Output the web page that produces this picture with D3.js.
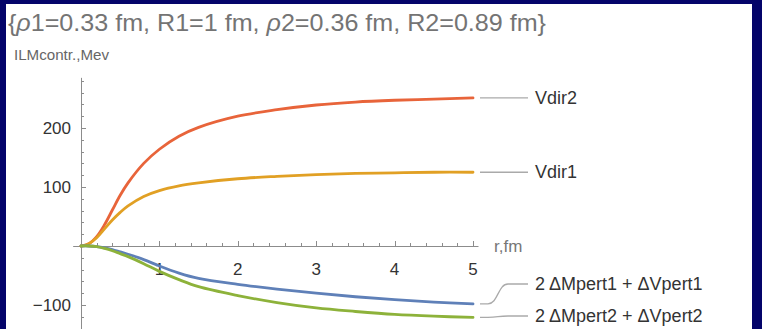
<!DOCTYPE html>
<html>
<head>
<meta charset="utf-8">
<script src="https://cdn.jsdelivr.net/npm/d3@7"></script>
<style>
  html, body { margin: 0; padding: 0; background: #04046a; }
  svg { display: block; }
  text { font-family: "Liberation Sans", Arial, sans-serif; }
</style>
</head>
<body>
<svg id="chart" width="762" height="329"></svg>
<script>
// radius samples (fm)
const radius = [0, 0.1, 0.2, 0.3, 0.4, 0.5, 0.6, 0.8, 1.0, 1.25, 1.5, 2, 2.5, 3, 3.5, 4, 4.5, 5];

// contributions, MeV
const vdir2 = [0, 4, 16, 36, 61, 86, 107, 140, 164, 186, 201, 220, 231, 239, 244, 247, 249, 251];
const vdir1 = [0, 4, 14, 29, 44, 57, 68, 84, 94, 102, 107, 114, 118, 121, 123, 124, 125, 125];
const pert1 = [0, 0, -1, -3, -6, -10, -14, -23, -34, -46, -55, -65, -73, -80, -86, -91, -95, -98];
const pert2 = [0, 0, -1, -4, -8, -13, -18, -30, -43, -57, -69, -84, -96, -105, -111, -116, -119, -121];

const seriesNames = ["Vdir2", "Vdir1", "2 \u0394Mpert1 + \u0394Vpert1", "2 \u0394Mpert2 + \u0394Vpert2"];
const seriesColors = ["#e8643a", "#e1a024", "#5f80b8", "#8db23a"];

const xTicks = [1, 2, 3, 4, 5];
const yTicks = [-100, 100, 200];

const svg = d3.select("#chart");

// white slide area
svg.append("rect")
  .attr("x", 6).attr("y", 4)
  .attr("width", 746).attr("height", 325)
  .attr("fill", "#ffffff");

const x = d3.scaleLinear().domain([0, 5]).range([81, 473]);
const y = d3.scaleLinear().domain([0, 200]).range([246, 128]);

const axisColor = "#8c8c8c";

// Title and axis labels
const title = svg.append("text")
  .attr("x", 8).attr("y", 31)
  .attr("font-size", 24)
  .attr("fill", "#747474");
title.append("tspan").text("{");
title.append("tspan").attr("font-style", "italic").text("\u03c1");
title.append("tspan").text("1=0.33 fm, R1=1 fm, ");
title.append("tspan").attr("font-style", "italic").text("\u03c1");
title.append("tspan").text("2=0.36 fm, R2=0.89 fm}");
title.attr("textLength", 538).attr("lengthAdjust", "spacingAndGlyphs");

svg.append("text")
  .attr("x", 14).attr("y", 60)
  .attr("font-size", 15)
  .attr("fill", "#666")
  .attr("textLength", 95).attr("lengthAdjust", "spacingAndGlyphs")
  .text("ILMcontr.,Mev");

svg.append("text")
  .attr("x", 494).attr("y", 252)
  .attr("font-size", 17)
  .attr("fill", "#777")
  .text("r,fm");

// Axes
const axes = svg.append("g").attr("stroke", axisColor).attr("stroke-width", 1);

axes.append("line")
  .attr("x1", x(-0.1)).attr("x2", x(5.07))
  .attr("y1", y(0) + 0.5).attr("y2", y(0) + 0.5);
axes.append("line")
  .attr("x1", x(0) + 0.5).attr("x2", x(0) + 0.5)
  .attr("y1", y(285)).attr("y2", 329);

// x minor ticks every 0.2
d3.range(1, 26).forEach(i => {
  const v = i * 0.2;
  const major = Math.abs(v - Math.round(v)) < 1e-6;
  axes.append("line")
    .attr("x1", Math.round(x(v)) + 0.5).attr("x2", Math.round(x(v)) + 0.5)
    .attr("y1", y(0)).attr("y2", y(0) - (major ? 5 : 3));
});

// y minor ticks every 20
d3.range(-7, 15).forEach(i => {
  if (i === 0) return;
  const v = i * 20;
  const major = v % 100 === 0;
  axes.append("line")
    .attr("x1", x(0)).attr("x2", x(0) + (major ? 5 : 3))
    .attr("y1", Math.round(y(v)) + 0.5).attr("y2", Math.round(y(v)) + 0.5);
});

svg.append("g").selectAll("text")
  .data(xTicks)
  .join("text")
  .attr("x", d => x(d))
  .attr("y", 275)
  .attr("text-anchor", "middle")
  .attr("font-size", 17)
  .attr("fill", "#333")
  .text(d => d);

svg.append("g").selectAll("text")
  .data(yTicks)
  .join("text")
  .attr("x", 71)
  .attr("y", d => y(d) + 6)
  .attr("text-anchor", "end")
  .attr("font-size", 17)
  .attr("fill", "#333")
  .text(d => d < 0 ? "\u2212" + Math.abs(d) : d);

// Curves
const series = [vdir2, vdir1, pert1, pert2];
const line = d3.line()
  .x(d => x(d[0]))
  .y(d => y(d[1]))
  .curve(d3.curveCatmullRom.alpha(0.5));

svg.append("g").selectAll("path")
  .data(series)
  .join("path")
  .attr("d", vals => line(radius.map((r, i) => [r, vals[i]])))
  .attr("fill", "none")
  .attr("stroke", (d, i) => seriesColors[i])
  .attr("stroke-width", 2.8)
  .attr("stroke-linecap", "round");

// Labels with leaders
const labelY = [y(vdir2[vdir2.length - 1]), y(vdir1[vdir1.length - 1]), 284, 316];
const leaders = svg.append("g").attr("fill", "none").attr("stroke", "#aaa").attr("stroke-width", 1.3);
series.forEach((vals, i) => {
  const y0 = y(vals[vals.length - 1]);
  const y1 = labelY[i];
  leaders.append("path")
    .attr("d", `M480,${y0} L488,${y0} C498,${y0} 498,${y1} 508,${y1} L528,${y1}`);
  svg.append("text")
    .attr("x", 535).attr("y", y1 + 6)
    .attr("font-size", 18)
    .attr("fill", "#333")
    .text(seriesNames[i]);
});
</script>
</body>
</html>
